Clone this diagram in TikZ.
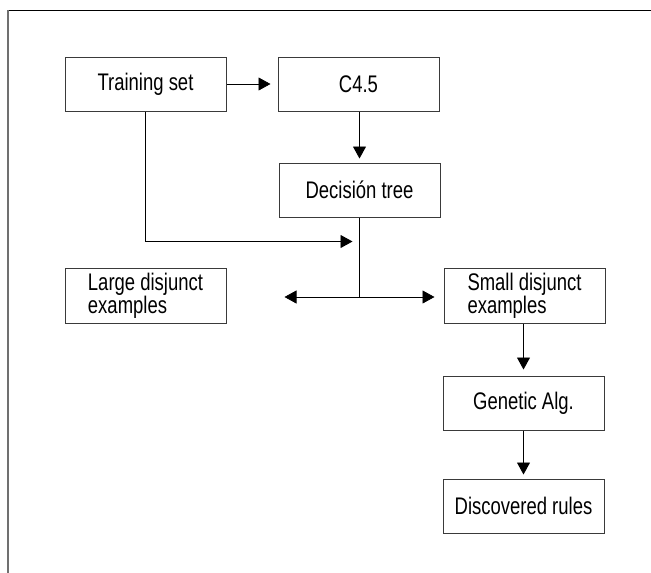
\documentclass[tikz,border=0pt]{standalone}
\usepackage{fontspec}
\setmainfont{Liberation Sans}[FakeStretch=0.77]
\usepackage{tikz}
\usetikzlibrary{arrows.meta,calc,positioning}
\definecolor{DMEdge}{HTML}{3A3A3A}
\definecolor{DMFrame}{HTML}{707070}
\tikzset{
  dmBox/.style={
    rectangle, draw=DMEdge, fill=white, line width=1pt,
    align=left, text=black, minimum width=161pt, minimum height=54pt,
    inner sep=2pt, font=\fontsize{24}{22}\selectfont
  },
  dmLine/.style={draw=black, line width=0.8pt},
  dmArrow/.style={dmLine, -{Triangle[length=12pt,width=13pt]}}
}

\begin{document}
\begin{tikzpicture}[x=1pt, y=1pt]
  \useasboundingbox (0,0) rectangle (651,-573);
  % page frame
  \draw[black, line width=0.9pt] (8,-10.3) -- (651,-10.3);
  \draw[DMFrame, line width=2pt] (8,-10.3) -- (8,-573);

  \node[dmBox] (train) at (145.5,-84) {Training set};
  \node[dmBox, right=51pt of train] (c45) {C4.5};
  \node[dmBox, below=51pt of c45, xshift=1pt] (dec) {Decisión tree};
  \node[dmBox, below=156pt of train, minimum height=55pt] (large) {Large disjunct\\examples};
  \node[dmBox, right=217pt of large, minimum height=55pt] (small) {Small disjunct\\examples};
  \node[dmBox, below=52pt of small, xshift=-1pt] (gen) {Genetic Alg.};
  \node[dmBox, below=48pt of gen] (disc) {Discovered rules};

  \coordinate (merge) at ($(dec.south)+(0,-24)$);
  \coordinate (fork) at ($(dec.south |- large.east)+(0,-1.5)$);

  \draw[dmArrow, shorten >=7pt] (train.east) -- (c45.west);
  \draw[dmArrow, shorten >=4pt] (dec.north |- c45.south) -- (dec.north);
  \draw[dmArrow, shorten >=7pt] (train.south) |- (merge);
  \draw[dmLine] (dec.south) -- (fork);
  \draw[dmArrow, shorten >=58pt] (fork) -- (fork -| large.east);
  \draw[dmArrow, shorten >=9pt] (fork) -- (fork -| small.west);
  \draw[dmArrow, shorten >=6pt] (gen.north |- small.south) -- (gen.north);
  \draw[dmArrow, shorten >=4pt] (gen.south) -- (disc.north);
\end{tikzpicture}
\end{document}
